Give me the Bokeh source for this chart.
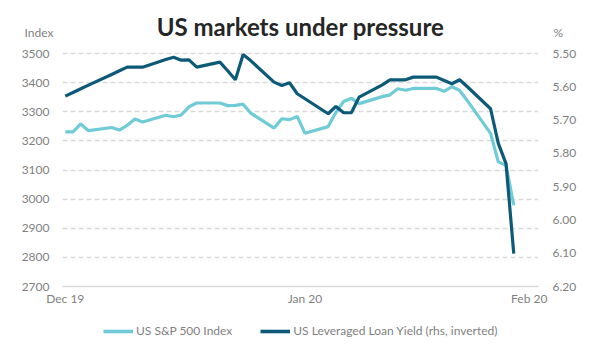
import pandas as pd
from bokeh.plotting import figure
from bokeh.layouts import column
from bokeh.models import (Range1d, LinearAxis, FixedTicker, DatetimeTickFormatter,
                          NumeralTickFormatter, Legend, LegendItem, Label)
from bokeh.embed import file_html
from bokeh.resources import INLINE

# ---------------- data ----------------
dates = ["2019-12-31", "2020-01-01", "2020-01-02", "2020-01-03", "2020-01-06", "2020-01-07",
         "2020-01-08", "2020-01-09", "2020-01-10", "2020-01-13", "2020-01-14", "2020-01-15",
         "2020-01-16", "2020-01-17", "2020-01-20", "2020-01-21", "2020-01-22", "2020-01-23",
         "2020-01-24", "2020-01-27", "2020-01-28", "2020-01-29", "2020-01-30", "2020-01-31",
         "2020-02-03", "2020-02-04", "2020-02-05", "2020-02-06", "2020-02-07", "2020-02-10",
         "2020-02-11", "2020-02-12", "2020-02-13", "2020-02-14", "2020-02-17", "2020-02-18",
         "2020-02-19", "2020-02-20", "2020-02-21", "2020-02-24", "2020-02-25", "2020-02-26",
         "2020-02-27"]
sp500 = [3231, 3231, 3258, 3235, 3246, 3237, 3253, 3275, 3265, 3288, 3283, 3289,
         3317, 3330, 3330, 3321, 3322, 3326, 3295, 3244, 3276, 3273, 3284, 3226,
         3249, 3298, 3335, 3346, 3328, 3352, 3358, 3379, 3374, 3380, 3380, 3370,
         3386, 3373, 3338, 3226, 3128, 3116, 2979]
loan_yield = [5.628, 5.617, 5.606, 5.595, 5.563, 5.552, 5.541, 5.541, 5.541, 5.518, 5.511, 5.520,
              5.519, 5.541, 5.526, 5.552, 5.579, 5.503, 5.522, 5.586, 5.596, 5.588, 5.621, 5.636,
              5.681, 5.659, 5.678, 5.678, 5.631, 5.594, 5.579, 5.579, 5.579, 5.571, 5.571, 5.581,
              5.591, 5.579, 5.600, 5.666, 5.770, 5.831, 6.101]
x_tick_dates = ["2019-12-31", "2020-01-31", "2020-02-29"]
left_ticks = [2700, 2800, 2900, 3000, 3100, 3200, 3300, 3400, 3500]
right_ticks = [5.50, 5.60, 5.70, 5.80, 5.90, 6.00, 6.10, 6.20]

title_text = "US markets under pressure"
left_unit = "Index"
right_unit = "%"
sp_label = "US S&P 500 Index"
yield_label = "US Leveraged Loan Yield (rhs, inverted)"

# ---------------- styling ----------------
LIGHT = "#6FCBD6"
DARK = "#0D5A78"
GRID = "#D9D9D9"
TXT = "#7F7F7F"
FONT = "Lato"

W = 600
TOP_H = 45          # header strip (title + unit labels)
MAIN_H = 265        # chart with axes
BOT_H = 43          # legend strip
FL, FR = 62, 538    # frame left/right in px
PAD_TOP = 6
GRID_TOP, GRID_BOT = 53, 286   # page y of 3500 and 2700

x = pd.to_datetime(dates)
day_ms = 86400000.0
x0 = pd.Timestamp("2019-12-31").timestamp() * 1000 - 0.36 * day_ms
x1 = pd.Timestamp("2020-03-01").timestamp() * 1000 + 0.2 * day_ms

px_per_unit = (GRID_BOT - GRID_TOP) / 800.0
extra_pad_px = (GRID_TOP - TOP_H) - PAD_TOP
y_end = 3500 + extra_pad_px / px_per_unit
yr_end = 5.50 - (extra_pad_px / px_per_unit) * (0.70 / 800.0)


def bare(fig):
    fig.outline_line_color = None
    fig.xgrid.visible = False
    fig.ygrid.visible = False
    fig.background_fill_color = "white"
    fig.border_fill_color = "white"


# ---------------- header ----------------
top = figure(width=W, height=TOP_H, x_range=Range1d(0, W), y_range=Range1d(TOP_H, 0),
             x_axis_location=None, y_axis_location=None, toolbar_location=None,
             output_backend="svg", min_border=0)
top.frame_align = False
bare(top)
top.add_layout(Label(x=300, y=26, text=title_text, text_align="center", text_baseline="middle",
                     text_font=FONT, text_font_style="bold", text_font_size="24px",
                     text_color="#262626"))
top.add_layout(Label(x=24, y=32, text=left_unit, text_align="left", text_baseline="middle",
                     text_font=FONT, text_font_size="12px", text_color=TXT))
top.add_layout(Label(x=553, y=32, text=right_unit, text_align="left", text_baseline="middle",
                     text_font=FONT, text_font_size="12px", text_color=TXT))

# ---------------- main chart ----------------
p = figure(width=W, height=MAIN_H, x_axis_type="datetime",
           x_range=Range1d(x0, x1), y_range=Range1d(2700, y_end),
           output_backend="svg", toolbar_location=None,
           min_border_left=FL, min_border_right=W - FR, min_border_top=PAD_TOP,
           min_border_bottom=TOP_H + MAIN_H - GRID_BOT)
p.frame_align = False
p.extra_y_ranges = {"yield": Range1d(start=6.20, end=yr_end)}
p.outline_line_color = None
p.background_fill_color = "white"
p.border_fill_color = "white"

r1 = p.line(x, sp500, line_color=LIGHT, line_width=3.2)
r2 = p.line(x, loan_yield, line_color=DARK, line_width=3.2, y_range_name="yield")

p.xgrid.visible = False
p.ygrid.ticker = FixedTicker(ticks=left_ticks)
p.ygrid.grid_line_color = GRID
p.ygrid.grid_line_dash = "5 3"
p.ygrid.grid_line_width = 1.3

xa = p.xaxis[0]
xa.ticker = FixedTicker(ticks=[pd.Timestamp(d).timestamp() * 1000 for d in x_tick_dates])
xa.formatter = DatetimeTickFormatter(
    milliseconds="%b %y", seconds="%b %y", minsec="%b %y", minutes="%b %y",
    hourmin="%b %y", hours="%b %y", days="%b %y", months="%b %y", years="%b %y")
xa.axis_line_color = GRID
xa.axis_line_width = 1.5
xa.major_tick_line_color = None
xa.minor_tick_line_color = None
xa.major_tick_out = 0
xa.major_tick_in = 0
xa.minor_tick_out = 0
xa.major_label_text_font = FONT
xa.major_label_text_font_size = "12px"
xa.major_label_text_color = TXT
xa.major_label_standoff = 4

ya = p.yaxis[0]
ya.ticker = FixedTicker(ticks=left_ticks)
ra = LinearAxis(y_range_name="yield", ticker=FixedTicker(ticks=right_ticks),
                formatter=NumeralTickFormatter(format="0.00"))
p.add_layout(ra, "right")
for ax, so in ((ya, 13), (ra, 14)):
    ax.axis_line_color = None
    ax.major_tick_line_color = None
    ax.minor_tick_line_color = None
    ax.major_tick_out = 0
    ax.major_tick_in = 0
    ax.minor_tick_out = 0
    ax.major_label_text_font = FONT
    ax.major_label_text_font_size = "12px"
    ax.major_label_text_color = TXT
    ax.major_label_standoff = so

# ---------------- legend strip ----------------
bot = figure(width=W, height=BOT_H, x_range=Range1d(0, W), y_range=Range1d(0, BOT_H),
             x_axis_location=None, y_axis_location=None, toolbar_location=None,
             output_backend="svg", min_border=0)
bot.frame_align = False
bare(bot)
# legend proxies: same series, far outside this strip's ranges, so only the swatches show
k1 = bot.line(x, sp500, line_color=LIGHT, line_width=3.6)
k2 = bot.line(x, loan_yield, line_color=DARK, line_width=3.6)
legend = Legend(items=[LegendItem(label=sp_label, renderers=[k1]),
                       LegendItem(label=yield_label, renderers=[k2])],
                orientation="horizontal", location=(103, 15),
                label_text_font=FONT, label_text_font_size="12px", label_text_color=TXT,
                glyph_width=30, glyph_height=14, label_height=14, label_standoff=3,
                spacing=28, padding=4, margin=0, border_line_color=None,
                background_fill_alpha=0)
bot.add_layout(legend, "center")

layout = column(top, p, bot, spacing=0)
open("out.html", "w").write(file_html(layout, INLINE))
